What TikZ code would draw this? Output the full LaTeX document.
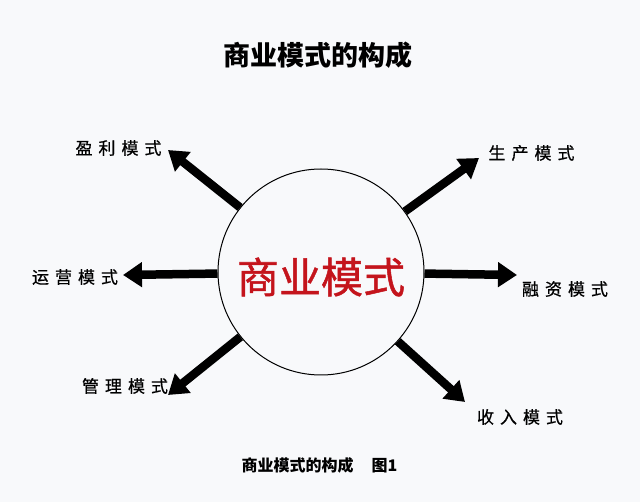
\documentclass[tikz,border=0pt]{standalone}
\usepackage{fontspec}
\setmainfont{Noto Sans CJK SC}
\newfontfamily\medfont{Noto Sans CJK SC}[FakeBold=0.7]
\newfontfamily\cfont{Noto Sans CJK SC}[FakeBold=1.2]
\usetikzlibrary{arrows.meta}
\definecolor{bg}{HTML}{F8F9FB}
\definecolor{cred}{HTML}{C4141C}
\newcommand{\gp}{\hspace{6pt}}
\tikzset{
  lbl/.style={font=\medfont\fontsize{17}{17}\selectfont, inner sep=0pt},
  bigarrow/.style={line width=8.5pt, -{Triangle[length=19pt,width=24pt]}, black},
}
\begin{document}
\begin{tikzpicture}[x=1pt,y=-1pt]
\fill[bg] (0,0) rectangle (640,502);
\useasboundingbox (0,0) rectangle (640,502);
% title
\node[font=\fontsize{27}{27}\selectfont\bfseries, inner sep=0pt] (title) at (317.5,55) {商业模式的构成};
% circle
\node[circle, draw=black, line width=1pt, minimum size=206pt, inner sep=0pt] (c) at (321,272) {};
\node[text=cred, font=\cfont\fontsize{42}{42}\selectfont, inner sep=0pt] (ctext) at (321,277) {商业模式};
% arrow tips
\coordinate (t1) at (168,150);
\coordinate (t2) at (479,158);
\coordinate (t3) at (123,275);
\coordinate (t4) at (517,275);
\coordinate (t5) at (168,395);
\coordinate (t6) at (465,402);
\draw[bigarrow] (c) -- (t1);
\draw[bigarrow] (c) -- (t2);
\draw[bigarrow] (c) -- (t3);
\draw[bigarrow] (c) -- (t4);
\draw[bigarrow] (c) -- (t5);
\draw[bigarrow] (c) -- (t6);
% labels
\node[lbl] (l1) at (118.5,148) {盈\gp 利\gp 模\gp 式};
\node[lbl] (l2) at (531.5,153) {生\gp 产\gp 模\gp 式};
\node[lbl] (l3) at (75,277) {运\gp 营\gp 模\gp 式};
\node[lbl] (l4) at (565,289) {融\gp 资\gp 模\gp 式};
\node[lbl] (l5) at (125,386) {管\gp 理\gp 模\gp 式};
\node[lbl] (l6) at (520,417) {收\gp 入\gp 模\gp 式};
% caption
\node[font=\fontsize{16}{16}\selectfont\bfseries, inner sep=0pt] (cap) at (319.5,465) {商业模式的构成\hspace{18pt}图1};
\end{tikzpicture}
\end{document}
